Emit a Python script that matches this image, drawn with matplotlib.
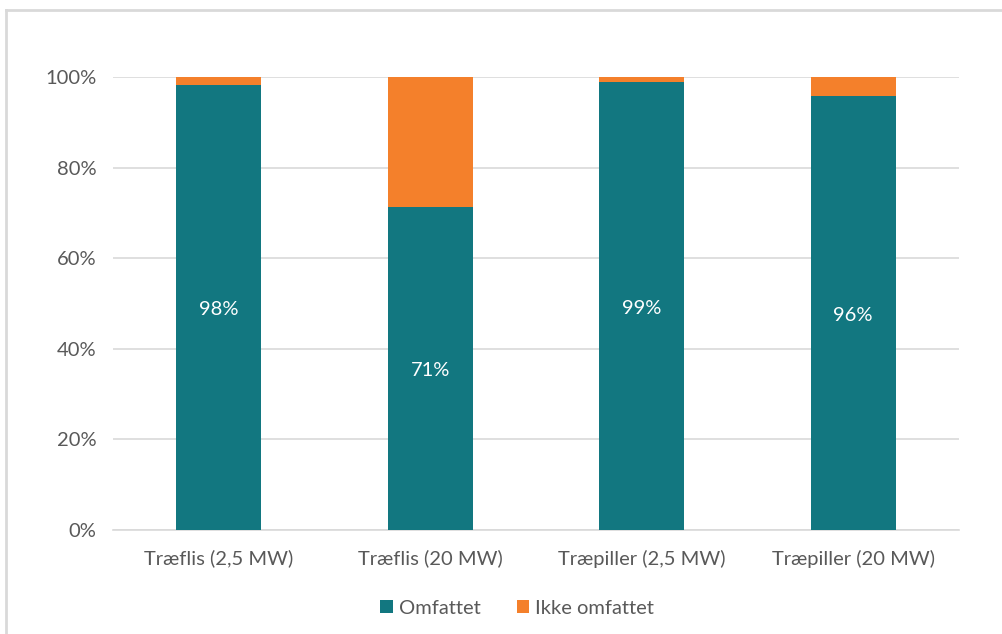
import matplotlib.pyplot as plt
from matplotlib.lines import Line2D
from matplotlib.ticker import PercentFormatter

categories = ['Træflis (2,5 MW)', 'Træflis (20 MW)', 'Træpiller (2,5 MW)', 'Træpiller (20 MW)']
omfattet = [0.982, 0.713, 0.988, 0.959]
ikke_omfattet = [1 - v for v in omfattet]
labels = ['98%', '71%', '99%', '96%']

teal = '#127780'
orange = '#F4802B'
grey = '#595959'

plt.rcParams['font.family'] = ['Lato', 'DejaVu Sans']

fig = plt.figure(figsize=(10.02, 6.34), dpi=100)
ax = fig.add_axes([113 / 1002, 1 - 530 / 634, (959 - 113) / 1002, (530 - 77) / 634])

x = range(len(categories))
bars = ax.bar(x, omfattet, width=0.4, color=teal, label='Omfattet', zorder=3)
ax.bar(x, ikke_omfattet, width=0.4, bottom=omfattet, color=orange, label='Ikke omfattet', zorder=3)

for b, lab in zip(bars, labels):
    ax.text(b.get_x() + b.get_width() / 2, b.get_height() / 2 - 0.005, lab,
            ha='center', va='center', color='white', fontsize=14.5)

ax.set_xlim(-0.5, len(categories) - 0.5)
ax.set_ylim(0, 1)
ax.set_yticks([0, 0.2, 0.4, 0.6, 0.8, 1.0])
ax.yaxis.set_major_formatter(PercentFormatter(1.0, decimals=0))
ax.set_xticks(list(x))
ax.set_xticklabels(categories)
ax.tick_params(axis='both', length=0, labelsize=14.5, colors=grey)
ax.tick_params(axis='y', pad=12)
ax.tick_params(axis='x', pad=14)
ax.grid(axis='y', color='#D9D9D9', linewidth=1.2, zorder=0)
for s in ['top', 'right', 'left']:
    ax.spines[s].set_visible(False)
ax.spines['bottom'].set_color('#D9D9D9')
ax.spines['bottom'].set_linewidth(1.2)

leg = fig.legend(loc='center', bbox_to_anchor=(0.516, 1 - 608 / 634), ncol=2, frameon=False,
                 fontsize=14.5, handlelength=0.6, handleheight=0.6, columnspacing=1.8, handletextpad=0.3)
for t in leg.get_texts():
    t.set_color(grey)

# chart border (only left and top visible in the crop)
fig.add_artist(Line2D([6 / 1002, 6 / 1002], [0, 1 - 10 / 634], color='#D9D9D9', linewidth=2))
fig.add_artist(Line2D([6 / 1002, 1], [1 - 10 / 634, 1 - 10 / 634], color='#D9D9D9', linewidth=2))

fig.savefig('out.png', dpi=100)
